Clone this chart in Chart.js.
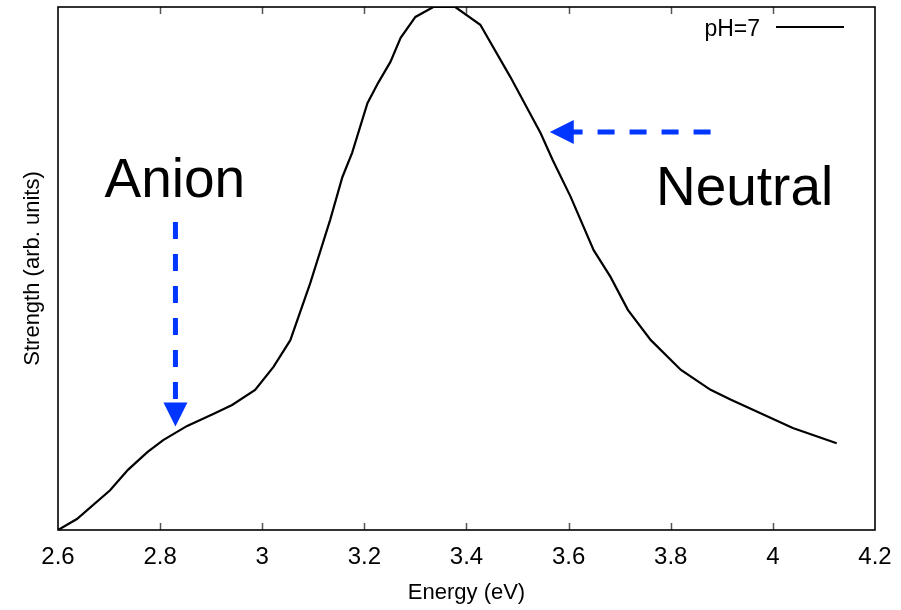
<!DOCTYPE html>
<html>
<head>
<meta charset="utf-8">
<script src="https://cdn.jsdelivr.net/npm/chart.js@4.4.1/dist/chart.umd.min.js"></script>
<style>
  html, body { margin: 0; padding: 0; background: #fff; }
  #wrap { width: 901px; height: 610px; }
</style>
</head>
<body>
<div id="wrap"><canvas id="c"></canvas></div>
<script>
// spectrum (energy in eV, strength normalised)
const energy = [2.6, 2.637, 2.702, 2.737, 2.775, 2.806, 2.853, 2.904, 2.941, 2.986,
  3.022, 3.055, 3.094, 3.133, 3.157, 3.176, 3.206, 3.227, 3.251, 3.271,
  3.300, 3.335, 3.378, 3.427, 3.486, 3.545, 3.569, 3.604, 3.649, 3.682,
  3.716, 3.761, 3.820, 3.878, 3.918, 4.039, 4.125];
const strength = [0, 0.021, 0.076, 0.115, 0.149, 0.172, 0.199, 0.222, 0.239, 0.268,
  0.312, 0.363, 0.472, 0.593, 0.675, 0.721, 0.816, 0.855, 0.895, 0.941,
  0.981, 1.0, 1.0, 0.966, 0.866, 0.759, 0.707, 0.637, 0.535, 0.484,
  0.421, 0.363, 0.306, 0.268, 0.249, 0.195, 0.166];
const xTicks = [2.6, 2.8, 3.0, 3.2, 3.4, 3.6, 3.8, 4.0, 4.2];

// annotations, in data units
const anionLabel = { text: 'Anion', x: 2.691, y: 0.637 };
const anionArrow = { x: 2.83, yFrom: 0.589, yTo: 0.198 };
const neutralLabel = { text: 'Neutral', x: 3.771, y: 0.621 };
const neutralArrow = { y: 0.761, xFrom: 3.878, xTo: 3.563 };

const FONT = '"Liberation Sans", Arial, Helvetica, sans-serif';
const BLUE = '#0036ff';

const points = energy.map((e, i) => ({ x: e, y: strength[i] }));

const extras = {
  id: 'extras',
  afterDraw(chart) {
    const { ctx, chartArea: a, scales: { x, y } } = chart;
    ctx.save();

    // inward ticks top & bottom
    ctx.strokeStyle = '#555';
    ctx.lineWidth = 1.5;
    xTicks.slice(1, -1).forEach(v => {
      const px = Math.round(x.getPixelForValue(v)) + 0.5;
      ctx.beginPath();
      ctx.moveTo(px, a.bottom); ctx.lineTo(px, a.bottom - 7);
      ctx.moveTo(px, a.top); ctx.lineTo(px, a.top + 7);
      ctx.stroke();
    });

    // frame
    ctx.strokeStyle = '#000';
    ctx.lineWidth = 1.6;
    ctx.strokeRect(a.left, a.top, a.right - a.left, a.bottom - a.top);

    // legend
    ctx.fillStyle = '#000';
    ctx.font = '23px ' + FONT;
    ctx.textAlign = 'right';
    ctx.textBaseline = 'alphabetic';
    ctx.fillText('pH=7', a.right - 115, a.top + 29);
    ctx.lineWidth = 2;
    ctx.beginPath();
    ctx.moveTo(a.right - 99, a.top + 20);
    ctx.lineTo(a.right - 31, a.top + 20);
    ctx.stroke();

    // big labels
    ctx.font = '55px ' + FONT;
    ctx.textAlign = 'left';
    ctx.fillText(anionLabel.text, x.getPixelForValue(anionLabel.x), y.getPixelForValue(anionLabel.y));
    ctx.fillText(neutralLabel.text, x.getPixelForValue(neutralLabel.x), y.getPixelForValue(neutralLabel.y));

    // dashed arrows
    ctx.strokeStyle = BLUE;
    ctx.fillStyle = BLUE;
    ctx.lineWidth = 5;
    ctx.setLineDash([17, 15]);

    const ax = x.getPixelForValue(anionArrow.x);
    const ay0 = y.getPixelForValue(anionArrow.yFrom);
    const ay1 = y.getPixelForValue(anionArrow.yTo);
    ctx.beginPath();
    ctx.moveTo(ax, ay0); ctx.lineTo(ax, ay1 - 20);
    ctx.stroke();

    const ny = y.getPixelForValue(neutralArrow.y);
    const nx0 = x.getPixelForValue(neutralArrow.xFrom);
    const nx1 = x.getPixelForValue(neutralArrow.xTo);
    ctx.beginPath();
    ctx.moveTo(nx0, ny); ctx.lineTo(nx1 + 20, ny);
    ctx.stroke();
    ctx.setLineDash([]);

    // heads
    ctx.beginPath();
    ctx.moveTo(ax, ay1);
    ctx.lineTo(ax - 12, ay1 - 24);
    ctx.lineTo(ax + 12, ay1 - 24);
    ctx.closePath();
    ctx.fill();
    ctx.beginPath();
    ctx.moveTo(nx1, ny);
    ctx.lineTo(nx1 + 24, ny - 12);
    ctx.lineTo(nx1 + 24, ny + 12);
    ctx.closePath();
    ctx.fill();

    ctx.restore();
  }
};

new Chart(document.getElementById('c'), {
  type: 'line',
  data: {
    datasets: [{
      label: 'pH=7',
      data: points,
      borderColor: '#000',
      borderWidth: 2.2,
      pointRadius: 0,
      tension: 0,
      fill: false
    }]
  },
  options: {
    responsive: true,
    maintainAspectRatio: false,
    animation: false,
    devicePixelRatio: 1,
    layout: { padding: { left: 0, right: 26, top: 7, bottom: 0 } },
    scales: {
      x: {
        type: 'linear',
        min: 2.6,
        max: 4.2,
        afterFit: s => { s.height = 80; },
        afterBuildTicks: s => { s.ticks = xTicks.map(v => ({ value: v })); },
        grid: { display: false },
        border: { display: false },
        ticks: {
          autoSkip: false,
          maxRotation: 0,
          padding: 5,
          color: '#000',
          font: { family: FONT, size: 24 },
          callback: v => String(+v.toFixed(1))
        },
        title: {
          display: true,
          text: 'Energy (eV)',
          color: '#000',
          font: { family: FONT, size: 22 },
          padding: { top: 0, bottom: 4 }
        }
      },
      y: {
        min: 0,
        max: 1,
        afterFit: s => { s.width = 58; },
        grid: { display: false },
        border: { display: false },
        ticks: { display: false },
        title: {
          display: true,
          text: 'Strength (arb. units)',
          color: '#000',
          font: { family: FONT, size: 22 },
          padding: { top: 20, bottom: 0 }
        }
      }
    },
    plugins: {
      legend: { display: false },
      tooltip: { enabled: false }
    }
  },
  plugins: [extras]
});
</script>
</body>
</html>
